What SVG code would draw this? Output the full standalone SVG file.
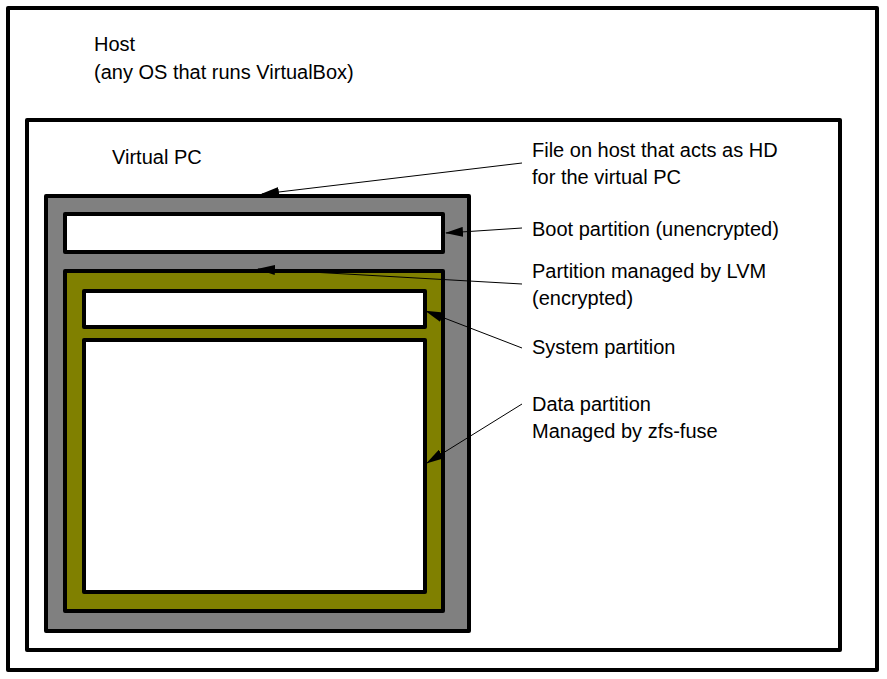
<svg xmlns="http://www.w3.org/2000/svg" width="887" height="679" viewBox="0 0 887 679">
<style>
.b{stroke:#000;stroke-width:4;stroke-linejoin:round}
text{font-family:"Liberation Sans",Arial,sans-serif;font-size:20px;fill:#000}
.c{stroke:#000;stroke-width:1;fill:none;marker-end:url(#a)}
</style>
<defs><marker id="a" markerWidth="18" markerHeight="10" refX="17" refY="5" orient="auto" markerUnits="userSpaceOnUse"><path d="M0,0L18,5L0,10z" fill="#000"/></marker></defs>
<rect width="887" height="679" fill="#fff"/>
<g id="host"><rect class="b" x="8" y="8" width="869" height="662" fill="#fff"/><text x="94" y="51">Host</text><text x="94" y="79">(any OS that runs VirtualBox)</text></g>
<g id="vpc"><rect class="b" x="27" y="120" width="813" height="530" fill="#fff"/><text x="112" y="164">Virtual PC</text></g>
<g id="hdfile"><rect class="b" x="46" y="196" width="423" height="435" fill="#808080"/></g>
<g id="boot"><rect class="b" x="65" y="214" width="378" height="38" fill="#fff"/></g>
<g id="lvm"><rect class="b" x="65" y="271" width="378" height="340" fill="#808000"/></g>
<g id="system"><rect class="b" x="84" y="291" width="341" height="36" fill="#fff"/></g>
<g id="data"><rect class="b" x="84" y="340" width="341" height="252" fill="#fff"/></g>
<g id="labels">
<text x="532" y="157">File on host that acts as HD</text><text x="532" y="184">for the virtual PC</text>
<text x="532" y="236">Boot partition (unencrypted)</text>
<text x="532" y="278">Partition managed by LVM</text><text x="532" y="305">(encrypted)</text>
<text x="532" y="354">System partition</text>
<text x="532" y="411">Data partition</text><text x="532" y="438">Managed by zfs-fuse</text>
</g>
<g id="connectors">
<line class="c" x1="522" y1="163" x2="262" y2="194"/>
<line class="c" x1="522" y1="228" x2="446" y2="233"/>
<line class="c" x1="522" y1="284" x2="258" y2="269"/>
<line class="c" x1="522" y1="348" x2="426" y2="311"/>
<line class="c" x1="522" y1="404" x2="427" y2="463"/>
</g>
</svg>
